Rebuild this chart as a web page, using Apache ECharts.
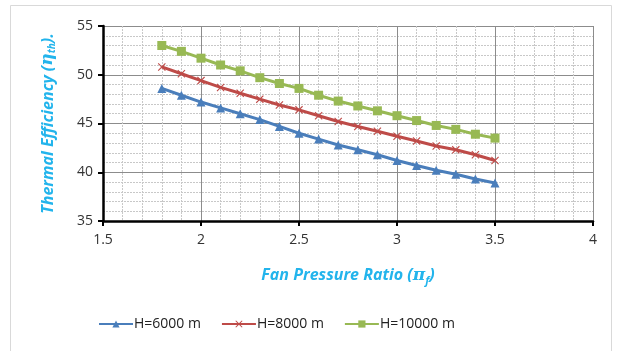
<!DOCTYPE html>
<html><head><meta charset="utf-8">
<script src="https://cdn.jsdelivr.net/npm/echarts@6/dist/echarts.min.js"></script>
<style>html,body{margin:0;padding:0;background:#fff}#c{width:617px;height:351px}</style>
</head><body><div id="c"></div>
<script>
var xValues = [1.8,1.9,2.0,2.1,2.2,2.3,2.4,2.5,2.6,2.7,2.8,2.9,3.0,3.1,3.2,3.3,3.4,3.5];
var h6000 = [48.6,47.9,47.2,46.6,46.0,45.4,44.7,44.0,43.4,42.8,42.3,41.8,41.2,40.7,40.2,39.8,39.3,38.9];
var h8000 = [50.8,50.1,49.4,48.7,48.1,47.5,46.9,46.4,45.8,45.2,44.7,44.2,43.7,43.2,42.7,42.3,41.8,41.2];
var h10000 = [53.0,52.4,51.7,51.0,50.4,49.7,49.1,48.6,47.9,47.3,46.8,46.3,45.8,45.3,44.8,44.4,43.9,43.5];
var seriesNames = ['H=6000 m','H=8000 m','H=10000 m'];
var xTicks = {min:1.5, max:4, interval:0.5};
var yTicks = {min:35, max:55, interval:5};

function pairs(ys){ return xValues.map(function(x,i){ return [x, ys[i]]; }); }
var crossPath = 'path://M1,0L5,4L9,0L10,1L6,5L10,9L9,10L5,6L1,10L0,9L4,5L0,1Z';
var colors = ['#4A7EBB','#BE4B48','#98B954'];
var symbols = ['triangle', crossPath, 'rect'];
var sizes = [9, 8, 9];
var datas = [h6000, h8000, h10000];
var titleColor = '#22B4EC';
var font = 'Open Sans';

var chart = echarts.init(document.getElementById('c'));
chart.setOption({
  animation:false,
  textStyle:{fontFamily:font},
  graphic:[{type:'rect', shape:{x:10.5,y:5.5,width:601,height:360}, style:{fill:'none', stroke:'#D9D9D9', lineWidth:1}, silent:true}],
  grid:{left:103, right:24, top:26, bottom:130, containLabel:false},
  xAxis:{type:'value', min:xTicks.min, max:xTicks.max, interval:xTicks.interval,
    name:'{t|Fan Pressure Ratio (}{g|π}{s|f}{t|)}', nameLocation:'middle', nameGap:44,
    nameTextStyle:{rich:{
      t:{fontFamily:font, fontSize:16, fontWeight:'bold', fontStyle:'italic', color:titleColor},
      g:{fontFamily:'DejaVu Serif', fontSize:17, fontWeight:'bold', fontStyle:'italic', color:titleColor},
      s:{fontFamily:font, fontSize:11, fontWeight:'bold', fontStyle:'italic', color:titleColor, padding:[10,0,0,0]}
    }},
    axisLine:{show:true, onZero:false, lineStyle:{color:'#000', width:2.5}},
    axisTick:{show:true, length:5, lineStyle:{color:'#000', width:2}},
    axisLabel:{color:'#333', fontSize:14, margin:12},
    minorTick:{show:false, splitNumber:5},
    splitLine:{show:true, lineStyle:{color:'#8C8C8C', width:1}},
    minorSplitLine:{show:true, lineStyle:{color:'#C8C8C8', width:1, type:[2,1]}}
  },
  yAxis:{type:'value', min:yTicks.min, max:yTicks.max, interval:yTicks.interval,
    name:'{t|Thermal Efficiency (}{g|η}{s|th}{t|).}', nameLocation:'middle', nameGap:46, nameRotate:90,
    nameTextStyle:{rich:{
      t:{fontFamily:font, fontSize:16, fontWeight:'bold', fontStyle:'italic', color:titleColor},
      g:{fontFamily:'DejaVu Serif', fontSize:17, fontWeight:'bold', fontStyle:'italic', color:titleColor},
      s:{fontFamily:font, fontSize:10, fontWeight:'bold', fontStyle:'italic', color:titleColor, padding:[8,0,0,0]}
    }},
    axisLine:{show:true, onZero:false, lineStyle:{color:'#000', width:2.5}},
    axisTick:{show:true, length:5, lineStyle:{color:'#000', width:2}},
    axisLabel:{color:'#333', fontSize:14, margin:10},
    minorTick:{show:false, splitNumber:5},
    splitLine:{show:true, lineStyle:{color:'#8C8C8C', width:1}},
    minorSplitLine:{show:true, lineStyle:{color:'#C8C8C8', width:1, type:[2,1]}}
  },
  legend:{bottom:15, left:93, itemWidth:34, itemHeight:9, itemGap:20,
    textStyle:{fontFamily:font, fontSize:14, color:'#222', padding:[0,0,0,-4]},
    data:seriesNames},
  series: seriesNames.map(function(n,i){
    return {name:n, type:'line', data:pairs(datas[i]), symbol:symbols[i], symbolSize:sizes[i],
      showAllSymbol:true, lineStyle:{color:colors[i], width:3}, itemStyle:{color:colors[i]}};
  })
});
</script></body></html>
